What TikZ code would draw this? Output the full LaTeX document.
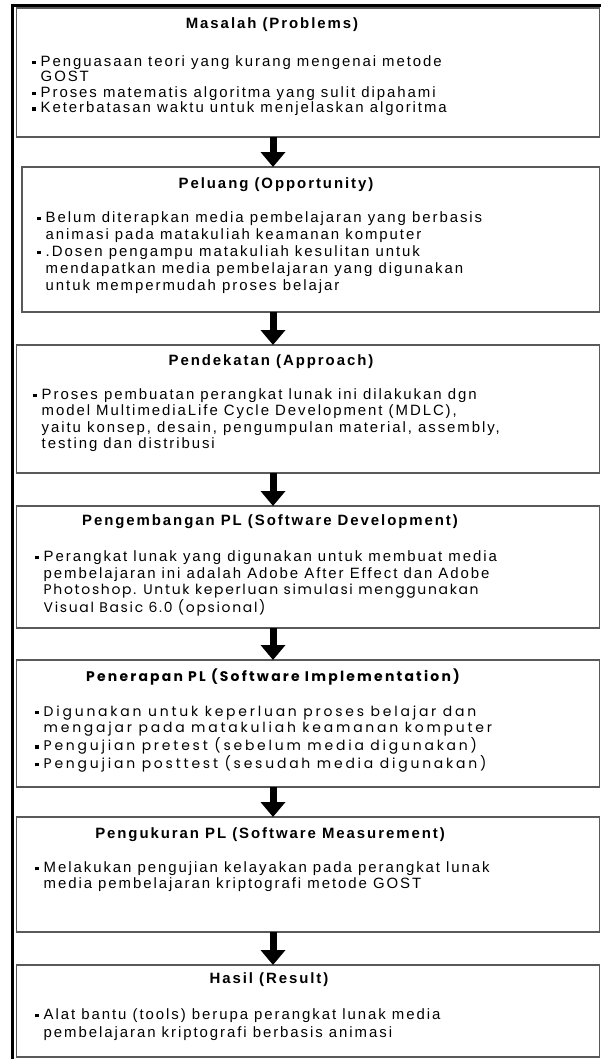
\documentclass[tikz,border=0pt]{standalone}
\usepackage{fontspec}
\setmainfont{Liberation Sans}[LetterSpace=13]
\newfontfamily\gothic{Poppins}[LetterSpace=12]
\newfontfamily\gothicw{Poppins}[LetterSpace=20]
\newfontfamily\gothict{Poppins}[LetterSpace=16]
\usetikzlibrary{arrows.meta}
\newcommand\blt{\rule[2.2bp]{3.5bp}{3.5bp}\hspace{5bp}}
\newcommand\ind{\hspace{8.5bp}}
\begin{document}
\begin{tikzpicture}[x=1bp,y=-1bp,
  box/.style={draw=black!65,line width=1.5bp,fill=white,anchor=north west,
    inner sep=0pt,outer sep=0pt,minimum width=583bp},
  ttl/.style={font=\bfseries\fontsize{15}{17}\selectfont,inner sep=0pt},
  txt/.style={anchor=north west,align=left,inner sep=0pt,
    font=\fontsize{15}{#1}\selectfont},
  arr/.style={line width=7bp,-{Triangle[width=24bp,length=15bp]}}]
\useasboundingbox (0,0) rectangle (601,1059);
\draw[line width=3bp] (12.5,1059) |- (601,5.3);
\coordinate (axis) at (273,0);
\node[box,minimum height=129bp] (masalah) at (16.5,8) {};
\node[box,minimum height=145bp,minimum width=577.5bp] (peluang) at (22,167) {};
\node[box,minimum height=128bp] (pendekatan) at (16.5,345) {};
\node[box,minimum height=122bp] (pengembangan) at (16.5,506) {};
\node[box,minimum height=127bp] (penerapan) at (16.5,660) {};
\node[box,minimum height=115bp] (pengukuran) at (16.5,817) {};
\node[box,minimum height=92bp] (hasil) at (16.5,965) {};
\foreach \a/\b in {masalah/peluang,peluang/pendekatan,pendekatan/pengembangan,
  pengembangan/penerapan,penerapan/pengukuran,pengukuran/hasil}
  \draw[arr] (axis |- \a.south) -- (axis |- \b.north);
% titles
\node[ttl] (masalahT) at (272,25) {Masalah (Problems)};
\node[ttl] (peluangT) at (276,185) {Peluang (Opportunity)};
\node[ttl] (pendekatanT) at (271,362) {Pendekatan (Approach)};
\node[ttl] (pengembanganT) at (270,522) {Pengembangan PL (Software Development)};
\node[ttl,font=\gothict\bfseries\fontsize{14}{16}\selectfont] (penerapanT) at (273,677) {Penerapan PL (Software Implementation)};
\node[ttl] (pengukuranT) at (270,835) {Pengukuran PL (Software Measurement)};
\node[ttl] (hasilT) at (269,980) {Hasil (Result)};
% bullets
\node[txt=15.5] (masalahB) at (32,55.5) {\blt Penguasaan teori yang kurang mengenai metode\\
  \ind GOST\\ \blt Proses matematis algoritma yang sulit dipahami\\
  \blt Keterbatasan waktu untuk menjelaskan algoritma};
\node[txt=17] (peluangB) at (37,211.5) {\blt Belum diterapkan media pembelajaran yang berbasis\\
  \ind animasi pada matakuliah keamanan komputer\\
  \blt .Dosen pengampu matakuliah kesulitan untuk\\
  \ind mendapatkan media pembelajaran yang digunakan\\
  \ind untuk mempermudah proses belajar};
\node[txt=16.3] (pendekatanB) at (33,388.5) {\blt Proses pembuatan perangkat lunak ini dilakukan dgn\\
  \ind model MultimediaLife Cycle Development (MDLC),\\
  \ind yaitu konsep, desain, pengumpulan material, assembly,\\
  \ind testing dan distribusi};
\node[txt=16.7] (pengembanganB) at (35,550.5) {\blt Perangkat lunak yang digunakan untuk membuat media\\
  \ind pembelajaran ini adalah Adobe After Effect dan Adobe\\
  \ind{\gothic\fontsize{14}{16.7}\selectfont Photoshop. Untuk keperluan simulasi menggunakan}\\
  \ind{\gothic\fontsize{14}{16.7}\selectfont Visual Basic 6.0 (opsional)}};
\node[txt=16.7,font=\gothicw\fontsize{14}{16.7}\selectfont] (penerapanB) at (35,705.5) {\blt Digunakan untuk keperluan proses belajar dan\\
  \ind mengajar pada matakuliah keamanan komputer\\
  \blt Pengujian pretest (sebelum media digunakan)\\
  \blt Pengujian posttest (sesudah media digunakan)};
\node[txt=16] (pengukuranB) at (35,861.5) {\blt Melakukan pengujian kelayakan pada perangkat lunak\\
  \ind media pembelajaran kriptografi metode GOST};
\node[txt=18] (hasilB) at (35,1008.5) {\blt Alat bantu (tools) berupa perangkat lunak media\\
  \ind pembelajaran kriptografi berbasis animasi};
\end{tikzpicture}
\end{document}
